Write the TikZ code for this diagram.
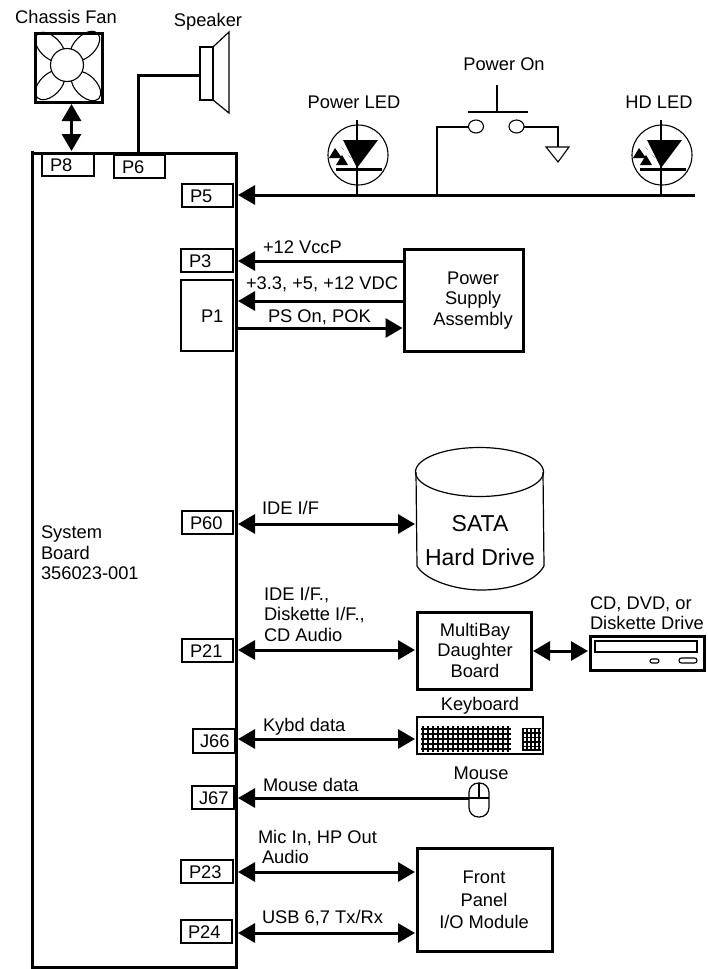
\documentclass[tikz,border=0pt]{standalone}
\usepackage{fontspec}
\setmainfont{Liberation Sans}
\usetikzlibrary{arrows.meta,shapes.geometric}
\tikzset{
  every node/.style={inner sep=0pt,outer sep=0pt,font=\fontsize{18.3}{20.5}\selectfont},
  thick box/.style={draw,line width=3pt},
  port box/.style={draw,line width=2pt},
  thin box/.style={draw,line width=1.2pt},
  wire/.style={line width=3pt},
  thin wire/.style={line width=2pt},
  fine/.style={line width=1.1pt},
  one/.style={wire,-{Triangle[length=17pt,width=19pt]},shorten >=2pt},
  both/.style={wire,{Triangle[length=17pt,width=19pt]}-{Triangle[length=17pt,width=19pt]},shorten >=2pt,shorten <=2pt},
  left text/.style={align=left,anchor=west},
  mid text/.style={align=center},
}
% style, name, x1, y1, x2, y2, text
\newcommand{\boxat}[7][]{\node[#2,minimum width={(#5-#3)*1pt},minimum height={(#6-#4)*1pt},#1] (#7) at ({(#3+#5)/2},{(#4+#6)/2}) {};}
\newcommand{\portat}[7]{\node[port box,minimum width={(#4-#2)*1pt},minimum height={(#5-#3)*1pt}] (#1) at ({(#2+#4)/2},{(#3+#5)/2}) {};
  \node[anchor=base west] (#1t) at (#7,{(#3+#5)/2+6.5}) {#6};}
\newcommand{\ledat}[2]{%
  \begin{scope}[shift={(#1,0)}]
    \node[draw,circle,line width=1.1pt,minimum size=60pt] (#2) at (1,155) {};
    \draw[line width=2.4pt] (0,120) -- (0,194);
    \fill (-14,140) -- (21,140) -- (0,168) -- cycle;
    \draw[line width=2.4pt] (-21,169.5) -- (25,169.5);
    \fill (-22,148) -- (-28,158) -- (-15,158) -- cycle;
    \fill (-15,155) -- (-21,165) -- (-9,165) -- cycle;
    \draw[line width=.5pt,densely dotted] (-16,147) -- (-13,150);
    \draw[line width=.5pt,densely dotted] (-9,155) -- (-6,158);
  \end{scope}}
\begin{document}
\begin{tikzpicture}[x=1pt,y=-1pt]
\useasboundingbox (0,0) rectangle (707,969);
% board
\node[thick box,minimum width=204pt,minimum height=814pt] (board) at (134,560) {};
\draw[wire] (board.north west) -- ++(0,-2.5);
\node[left text,anchor=west] (boardt) at (41,553) {System\\Board\\356023-001};
% ports
\portat{p8}{42}{154}{94}{176}{P8}{50}
\portat{p6}{114}{155}{165}{178}{P6}{122}
\portat{p5}{182}{184}{233}{207}{P5}{190}
\portat{p3}{181}{249}{233}{272}{P3}{189}
\portat{p1}{181}{280}{233}{351}{P1}{201}
\portat{p60}{182}{511}{233}{534}{P60}{190}
\portat{p21}{182}{639}{233}{662}{P21}{190}
\portat{j66}{193}{729}{235}{753}{J66}{200}
\portat{j67}{192}{786}{234}{809}{J67}{199}
\portat{p23}{181}{860}{233}{883}{P23}{189}
\portat{p24}{181}{920}{232}{943}{P24}{188}
% fan
\node (fant) at (66,17) {Chassis Fan};
\boxat{thick box}{35}{33}{102}{102}{fan}
\draw[fine] (50,47) ellipse [x radius=18pt,y radius=10.5pt,rotate=-45];
\draw[fine] (85,46) ellipse [x radius=18pt,y radius=10.5pt,rotate=45];
\draw[fine] (50,85) ellipse [x radius=18pt,y radius=10.5pt,rotate=45];
\draw[fine] (86,86) ellipse [x radius=18pt,y radius=10.5pt,rotate=-45];
\node[draw,circle,fill=white,line width=1.1pt,minimum size=33pt] (hub) at (67,65) {};
\coordinate (fanx) at (71.5,120);
\draw[both] (fan.south -| fanx) -- (board.north -| fanx);
% speaker
\node (spkt) at (208,22) {Speaker};
\boxat{port box}{200}{47}{213}{100}{spk}
\draw[line width=1.2pt] (213,47) -- (229,32) -- (229,113) -- (213,100);
\coordinate (spkrow) at (170,75);
\coordinate (spkx) at (138,120);
\draw[wire] (spk.west |- spkrow) -- (spkx |- spkrow) -- (board.north -| spkx);
% bus and LEDs
\node (pledt) at (354,102) {Power LED};
\node (hdledt) at (659,102) {HD LED};
\ledat{357}{pled}
\ledat{661}{hdled}
\coordinate (busend) at (695,195);
\draw[one] (busend) -- (board.east |- busend);
% switch
\node (swt) at (504,64) {Power On};
\coordinate (plungetop) at (497,85);
\coordinate (plunge) at (497,112);
\draw[thin wire] (plungetop) -- (plunge);
\draw[thin wire] (468,112) -- (528,112);
\node[draw,ellipse,line width=1.1pt,minimum width=15pt,minimum height=13pt] (ca) at (476,126.5) {};
\node[draw,ellipse,line width=1.1pt,minimum width=15pt,minimum height=13pt] (cb) at (516.5,126.5) {};
\coordinate (busdrop) at (437,195);
\coordinate (gnd) at (558,147);
\draw[thin wire] (ca.west) -| (busdrop);
\draw[thin wire] (cb.east) -| (gnd);
\draw[line width=1.1pt] (546,147) -- (569,147) -- (558,162) -- cycle;
% power supply
\boxat{thick box}{404.5}{249}{523}{351}{psu}
\node[mid text] (psut) at (473,300.5) {Power\\Supply\\Assembly};
\coordinate (r3) at (300,261);
\coordinate (r1a) at (300,301);
\coordinate (r1b) at (300,328);
\draw[one] (psu.west |- r3) -- (board.east |- r3);
\draw[one] (psu.west |- r1a) -- (board.east |- r1a);
\draw[one] (board.east |- r1b) -- (psu.west |- r1b);
\node[anchor=base west] (l3) at (263,253.5) {+12 VccP};
\node[anchor=base west] (l1a) at (246,289.5) {+3.3, +5, +12 VDC};
\node[anchor=base west] (l1b) at (268,322.5) {PS On, POK};
% disk
\node[minimum width=126pt,minimum height=143pt] (disk) at (480,518.5) {};
\draw[line width=1.2pt] (479.5,472) ellipse [x radius=64pt,y radius=24.5pt];
\draw[line width=1.2pt] (416,472) -- (417,566) .. controls (425,580) and (455,590) .. (481,590) .. controls (510,590) and (535,582) .. (544,566) -- (543,472);
\node[font=\fontsize{23}{34}\selectfont,mid text] (diskt) at (480,541) {SATA\\Hard Drive};
\coordinate (r60) at (300,524);
\draw[both] (board.east |- r60) -- (disk.west |- r60);
\node[anchor=base west] (l60) at (262,514.5) {IDE I/F};
% multibay
\boxat{thick box}{417}{612}{531}{689}{mb}
\node[mid text] (mbt) at (475,650) {MultiBay\\Daughter\\Board};
\coordinate (r21) at (300,650);
\draw[both] (board.east |- r21) -- (mb.west |- r21);
\node[left text] (l21) at (264,614) {IDE I/F.,\\Diskette I/F.,\\CD Audio};
% drive
\boxat{thick box}{590}{636}{704}{670}{drive}
\boxat{port box}{595}{641}{697}{652}{tray}
\node[draw,rounded corners=2pt,line width=1.1pt,minimum width=9pt,minimum height=4pt] (btna) at (654.5,661) {};
\node[draw,rounded corners=2.5pt,line width=1.1pt,minimum width=18pt,minimum height=5pt] (btnb) at (688,660.5) {};
\node[left text] (drivet) at (590,613) {CD, DVD, or\\Diskette Drive};
\coordinate (rd) at (560,651);
\draw[both] (mb.east |- rd) -- (drive.west |- rd);
% keyboard
\node (kbt) at (480,706) {Keyboard};
\boxat{port box}{417}{717}{543}{754}{kb}
\foreach \yy in {728.5,733.5,738.5,743.5,749} \draw[line width=2pt] (421,\yy) -- (511,\yy);
\foreach \xx in {423,428,...,510} \draw[line width=1.6pt] (\xx,726) -- (\xx,752);
\foreach \yy in {728.5,733,737.5,742,746.5,750} \draw[line width=1.4pt] (522,\yy) -- (541,\yy);
\foreach \xx in {523,527,...,540} \draw[line width=1.4pt] (\xx,728) -- (\xx,750);
\coordinate (r66) at (300,739);
\draw[both] (board.east |- r66) -- (kb.west |- r66);
\node[anchor=base west] (l66) at (263,731.5) {Kybd data};
% mouse
\node (mst) at (481,773) {Mouse};
\node[draw,rounded corners=9.5pt,line width=1.2pt,minimum width=20pt,minimum height=34pt] (ms) at (479,800) {};
\coordinate (r67) at (300,798);
\draw[one] (ms.west |- r67) -- (board.east |- r67);
\draw[line width=1.2pt] (ms.west |- r67) -- (ms.east |- r67);
\draw[line width=1.2pt] (ms.north) -- (ms.center |- r67);
\node[anchor=base west] (l67) at (263,791.5) {Mouse data};
% front panel
\boxat{thick box}{417}{848}{552}{951}{fp}
\node[mid text,font=\fontsize{18.3}{22.5}\selectfont] (fpt) at (484,900) {Front\\Panel\\I/O Module};
\coordinate (r23) at (300,872);
\coordinate (r24) at (300,933);
\draw[both] (board.east |- r23) -- (fp.west |- r23);
\draw[both] (board.east |- r24) -- (fp.west |- r24);
\node[anchor=base west] (l23a) at (258,843.5) {Mic In, HP Out};
\node[anchor=base west] (l23b) at (262,863.5) {Audio};
\node[anchor=base west] (l24) at (262,923.5) {USB 6,7 Tx/Rx};
\end{tikzpicture}
\end{document}
